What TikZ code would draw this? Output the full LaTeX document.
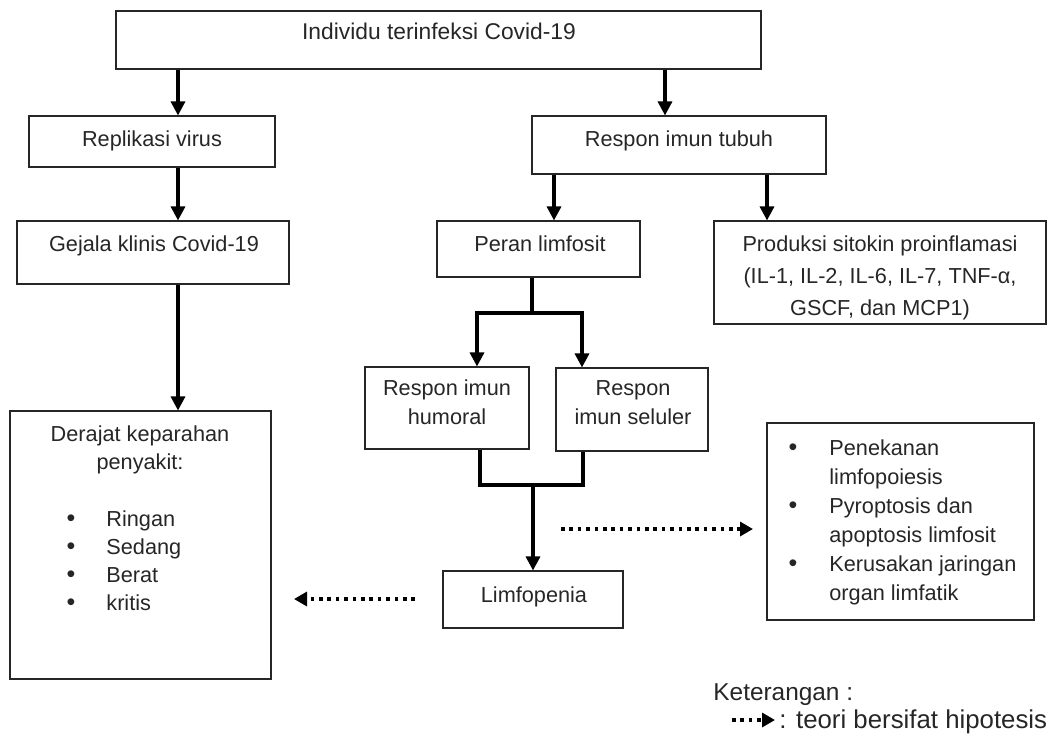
\documentclass[tikz,border=0pt]{standalone}
\usepackage{fontspec}
\setmainfont{Liberation Sans}
\usetikzlibrary{arrows.meta,fit}
\begin{document}
\begin{tikzpicture}[x=0.5pt,y=-0.5pt,
  box/.style={draw=black!85, line width=0.55pt, inner sep=0pt},
  txt/.style={font=\fontsize{10.85}{15}\selectfont, inner sep=0pt, anchor=base, text=black!85},
  txtl/.style={txt, anchor=base west},
  bul/.style={txt, font=\fontsize{12.5}{15}\selectfont},
  legt/.style={txtl, font=\fontsize{12.2}{15}\selectfont},
  arr/.style={line width=1.6pt, -{Triangle[width=7pt,length=7pt]}},
  ln/.style={line width=1.6pt},
  dotarr/.style={line width=1.8pt, dash pattern=on 1.8pt off 2.4pt, -{Triangle[width=7pt,length=6.5pt]}}
]
\useasboundingbox (0,0) rectangle (1060,736);

% boxes
\node[box, fit={(116,11)(761,69)}] (top) {};
\node[box, fit={(29,116)(275,167)}] (repl) {};
\node[box, fit={(17,221)(289,284)}] (gejala) {};
\node[box, fit={(10,411)(271,679)}] (derajat) {};
\node[box, fit={(532,116)(826,174)}] (respon) {};
\node[box, fit={(437,221)(640,277)}] (peran) {};
\node[box, fit={(714,221)(1046,324)}] (produksi) {};
\node[box, fit={(365,367)(529,449)}] (humoral) {};
\node[box, fit={(556,368)(708,451)}] (seluler) {};
\node[box, fit={(443,571)(623,628)}] (limfo) {};
\node[box, fit={(767,423)(1034,620)}] (mekan) {};

% texts
\node[txt, font=\fontsize{11.4}{15}\selectfont] (ttop) at (439,39) {Individu terinfeksi Covid-19};
\node[txt] (trepl) at (152,146) {Replikasi virus};
\node[txt] (tgej) at (154,251) {Gejala klinis Covid-19};
\node[txt] (tresp) at (679,146) {Respon imun tubuh};
\node[txt] (tper) at (540,251) {Peran limfosit};
\node[txt] (tpro1) at (880,251) {Produksi sitokin proinflamasi};
\node[txt] (tpro2) at (880,283) {(IL-1, IL-2, IL-6, IL-7, TNF-α,};
\node[txt] (tpro3) at (880,315) {GSCF, dan MCP1)};
\node[txt] (thum1) at (447,395) {Respon imun};
\node[txt] (thum2) at (447,424) {humoral};
\node[txt] (tsel1) at (633,395) {Respon};
\node[txt] (tsel2) at (633,424) {imun seluler};
\node[txt] (tlim) at (534,602) {Limfopenia};
\node[txt] (tder1) at (140,441) {Derajat keparahan};
\node[txt] (tder2) at (140,469) {penyakit:};
\node[bul] (b1) at (71,526) {•};
\node[bul] (b2) at (71,554) {•};
\node[bul] (b3) at (71,582) {•};
\node[bul] (b4) at (71,610) {•};
\node[txtl] (l1) at (106,526) {Ringan};
\node[txtl] (l2) at (106,554) {Sedang};
\node[txtl] (l3) at (106,582) {Berat};
\node[txtl] (l4) at (106,610) {kritis};
\node[bul] (m1) at (793,455) {•};
\node[bul] (m2) at (793,513) {•};
\node[bul] (m3) at (793,571) {•};
\node[txtl] (n1) at (829,455) {Penekanan};
\node[txtl] (n2) at (829,484) {limfopoiesis};
\node[txtl] (n3) at (829,513) {Pyroptosis dan};
\node[txtl] (n4) at (829,542) {apoptosis limfosit};
\node[txtl] (n5) at (829,571) {Kerusakan jaringan};
\node[txtl] (n6) at (829,600) {organ limfatik};
\node[legt] (leg1) at (713,700) {Keterangan :};
\node[legt, font=\fontsize{12.9}{15}\selectfont] (leg2) at (779,728) {: teori bersifat hipotesis};

% helper x positions
\coordinate (cL) at (178,0);
\coordinate (cR) at (665,0);
\coordinate (cA) at (554,0);
\coordinate (cB) at (767,0);
\coordinate (cH) at (477,0);
\coordinate (cS) at (582,0);
\coordinate (cHm) at (480,0);
\coordinate (cSm) at (583,0);

% connectors
\draw[arr] (top.south -| cL) -- (repl.north -| cL);
\draw[arr] (repl.south -| cL) -- (gejala.north -| cL);
\draw[arr] (gejala.south -| cL) -- (derajat.north -| cL);
\draw[arr] (top.south -| cR) -- (respon.north -| cR);
\draw[arr] (respon.south -| cA) -- (peran.north -| cA);
\draw[arr] (respon.south -| cB) -- (produksi.north -| cB);

\coordinate (fork) at (532,313);
\draw[ln] (peran.south -| fork) -- (fork);
\draw[arr] (fork) -| (humoral.north -| cH);
\draw[arr] (fork) -| (seluler.north -| cS);

\coordinate (merge) at (533,485);
\draw[ln] (humoral.south -| cHm) |- (merge);
\draw[ln] (seluler.south -| cSm) |- (merge);
\draw[arr] (merge) -- (limfo.north -| merge);

% dotted (hypothesis) arrows
\coordinate (d1s) at (561,529);
\coordinate (d1e) at (753,529);
\draw[dotarr] (d1s) -- (d1e);
\coordinate (d2s) at (415,599);
\coordinate (d2e) at (294,599);
\draw[dotarr] (d2s) -- (d2e);
\coordinate (d3s) at (732,720);
\coordinate (d3e) at (775,720);
\draw[dotarr] (d3s) -- (d3e);
\end{tikzpicture}
\end{document}
